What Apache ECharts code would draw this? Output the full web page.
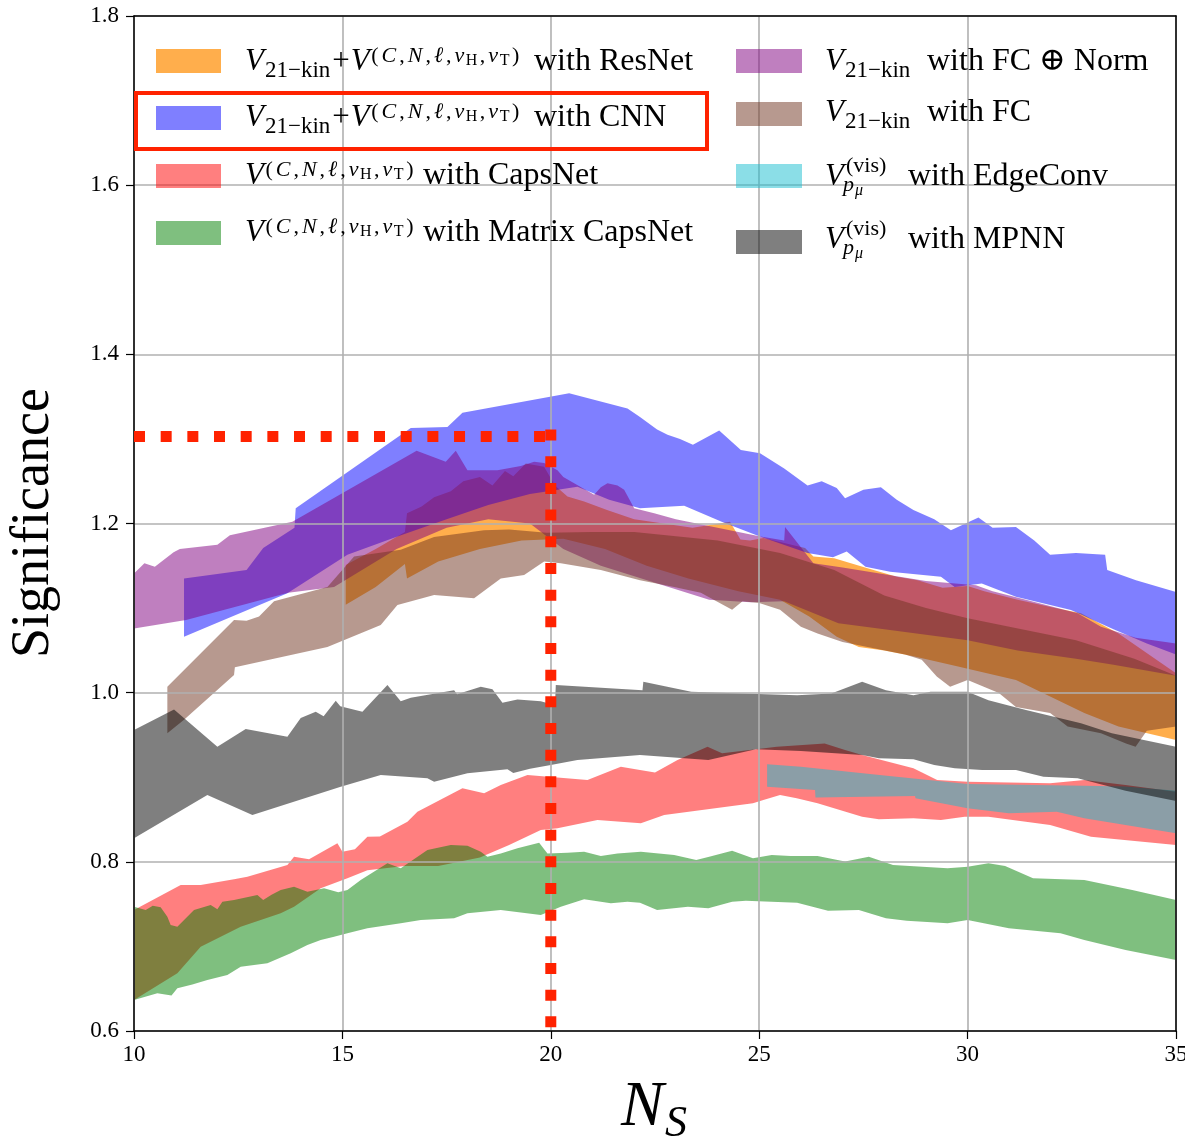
<!DOCTYPE html>
<html>
<head>
<meta charset="utf-8">
<script src="https://cdn.jsdelivr.net/npm/echarts@6/dist/echarts.min.js"></script>
<style>
  html, body { margin: 0; padding: 0; background: #ffffff; overflow: hidden; }
  #chart { width: 1185px; height: 1141px; }
</style>
</head>
<body>
<div id="chart"></div>
<script>
// ---- Significance bands vs. number of signal events N_S ----
// Each band is an upper edge and a lower edge, as [N_S, significance] pairs.

const resnetTop = [[15.08,1.151],[15.8,1.17],[16.5,1.19],[16.55,1.212],[16.9,1.22],[17.2,1.231],[17.6,1.238],[17.9,1.25],[18.3,1.255],[18.6,1.245],[18.9,1.262],[19.1,1.256],[19.4,1.271],[19.84,1.267],[20.1,1.245],[20.4,1.232],[20.8,1.226],[21.35,1.216],[22.0,1.205],[22.7,1.2],[23.4,1.195],[24.3,1.202],[24.55,1.181],[24.78,1.18],[25.1,1.183],[25.6,1.177],[26.1,1.171],[26.3,1.161],[26.8,1.159],[27.6,1.147],[28.3,1.137],[28.8,1.133],[29.4,1.124],[30.0,1.126],[30.4,1.12],[31.2,1.11],[32.1,1.1],[32.72,1.094],[33.62,1.07],[35.0,1.023]];
const resnetBottom = [[15.08,1.104],[15.8,1.125],[16.5,1.152],[16.55,1.135],[17.3,1.155],[18.3,1.17],[19.3,1.18],[20.3,1.182],[21.3,1.17],[22.3,1.15],[23.3,1.135],[24.5,1.12],[25.5,1.11],[26.2,1.09],[26.86,1.066],[27.39,1.054],[28.0,1.05],[28.7,1.043],[29.77,1.031],[31.16,1.015],[31.98,0.9955],[32.8,0.976],[33.62,0.96],[35.0,0.944]];

const cnnTop = [[11.2,1.135],[12.7,1.145],[13.1,1.171],[13.85,1.195],[13.88,1.218],[16.64,1.313],[17.52,1.314],[17.88,1.331],[20.44,1.354],[21.84,1.336],[22.14,1.326],[22.55,1.311],[22.8,1.305],[23.1,1.3],[23.41,1.293],[24.04,1.31],[24.56,1.287],[25.02,1.283],[25.6,1.265],[26.16,1.245],[26.5,1.25],[26.86,1.242],[27.06,1.23],[27.5,1.24],[27.92,1.243],[28.3,1.228],[28.7,1.216],[29.2,1.205],[29.6,1.192],[30.26,1.207],[30.6,1.195],[31.16,1.196],[31.6,1.18],[31.98,1.163],[32.6,1.165],[33.3,1.163],[33.35,1.145],[34.04,1.133],[35.0,1.119]];
const cnnBottom = [[11.2,1.066],[13.68,1.1175],[15.12,1.163],[16.32,1.1845],[17.5,1.205],[18.5,1.222],[19.5,1.235],[20.64,1.2435],[21.4,1.228],[22.14,1.218],[23.2,1.221],[24.1,1.202],[25.0,1.185],[26.16,1.165],[26.77,1.16],[27.1,1.167],[27.55,1.149],[28.14,1.143],[29.36,1.137],[29.69,1.125],[30.34,1.129],[31.16,1.1135],[32.48,1.0977],[33.5,1.075],[34.3,1.058],[35.0,1.045]];

const capsTop = [[10.0,0.743],[11.12,0.7726],[11.6,0.7726],[12.4,0.7793],[12.72,0.7824],[13.68,0.7963],[13.84,0.806],[14.2,0.803],[14.88,0.8219],[15.0,0.812],[15.3,0.815],[15.6,0.8297],[15.9,0.83],[16.56,0.8475],[16.8,0.8593],[17.88,0.887],[18.4,0.881],[18.8,0.8909],[19.44,0.9027],[20.88,0.8968],[21.68,0.9125],[22.14,0.9086],[22.5,0.9055],[23.04,0.9204],[23.76,0.9362],[24.11,0.9283],[24.92,0.933],[25.42,0.9362],[26.57,0.94],[27.06,0.9322],[27.47,0.9263],[28.7,0.9106],[29.27,0.8968],[30.0,0.8948],[31.98,0.8929],[32.8,0.8968],[33.79,0.8908],[35.0,0.883]];
const capsBottom = [[10.0,0.6367],[11.04,0.6682],[11.6,0.6997],[12.56,0.7233],[13.52,0.7391],[13.84,0.747],[14.48,0.7687],[15.12,0.7805],[15.6,0.79],[16.5,0.795],[17.3,0.795],[18.3,0.805],[19.0,0.82],[19.76,0.8376],[20.16,0.8396],[21.12,0.8495],[22.16,0.8456],[22.72,0.8554],[24.85,0.8692],[25.1,0.8731],[25.5,0.879],[25.9,0.8751],[26.4,0.8692],[27.47,0.8534],[27.87,0.8503],[28.7,0.8515],[29.36,0.8495],[29.93,0.8534],[30.5,0.8534],[31.98,0.8436],[32.96,0.8298],[35.0,0.82]];

const matrixTop = [[10.0,0.747],[10.28,0.743],[10.45,0.748],[10.64,0.7462],[10.8,0.735],[10.88,0.7253],[11.04,0.7233],[11.44,0.743],[11.84,0.749],[12.0,0.744],[12.12,0.7529],[12.4,0.7549],[12.96,0.7608],[13.1,0.755],[13.3,0.761],[13.52,0.7667],[13.84,0.7706],[14.16,0.7647],[14.56,0.7687],[14.9,0.764],[15.12,0.7667],[15.44,0.7785],[16.08,0.7983],[16.4,0.7924],[17.04,0.814],[17.6,0.82],[18.0,0.819],[18.32,0.812],[18.48,0.8061],[18.8,0.81],[19.2,0.816],[19.72,0.8227],[19.92,0.81],[20.4,0.8108],[20.8,0.812],[21.2,0.8069],[21.6,0.81],[22.16,0.812],[22.96,0.8081],[23.49,0.8022],[23.8,0.806],[24.35,0.8132],[24.85,0.8041],[25.3,0.808],[25.75,0.8069],[26.4,0.807],[27.06,0.8003],[27.63,0.8061],[28.21,0.7963],[29.52,0.7924],[30.0,0.7943],[30.5,0.7983],[30.9,0.795],[31.57,0.7805],[32.8,0.7785],[33.95,0.7667],[35.0,0.7549]];
const matrixBottom = [[10.0,0.6367],[10.56,0.6446],[10.9,0.642],[11.04,0.6505],[11.4,0.655],[11.76,0.6603],[12.24,0.6662],[12.56,0.676],[13.2,0.68],[13.76,0.6918],[14.16,0.7017],[14.48,0.7076],[14.8,0.7115],[15.12,0.7155],[15.6,0.7214],[16.4,0.7273],[16.88,0.7312],[17.68,0.7332],[18.0,0.7391],[18.8,0.743],[19.76,0.7371],[20.24,0.747],[20.8,0.7557],[21.44,0.751],[21.84,0.7529],[22.14,0.7517],[22.55,0.743],[23.29,0.747],[23.78,0.7451],[24.35,0.7529],[24.68,0.7541],[25.91,0.7517],[26.65,0.7423],[27.39,0.743],[28.04,0.7332],[28.54,0.7304],[29.52,0.7273],[30.0,0.7312],[30.99,0.7214],[32.23,0.7155],[32.8,0.7076],[33.79,0.6958],[35.0,0.6839]];

const fcNormTop = [[10.0,1.141],[10.25,1.153],[10.5,1.149],[10.95,1.166],[11.1,1.17],[12.0,1.175],[12.3,1.186],[13.8,1.202],[16.78,1.286],[17.48,1.273],[17.72,1.286],[18.0,1.263],[18.72,1.263],[19.28,1.268],[19.6,1.273],[19.84,1.2715],[20.16,1.263],[20.3,1.255],[21.04,1.234],[21.2,1.243],[21.36,1.2475],[21.6,1.245],[21.76,1.24],[22.0,1.218],[22.48,1.212],[23.0,1.205],[24.0,1.195],[25.0,1.185],[25.6,1.18],[25.62,1.196],[26.3,1.153],[27.0,1.148],[28.0,1.14],[29.0,1.132],[30.2,1.127],[30.6,1.12],[31.4,1.11],[32.64,1.094],[33.2,1.078],[34.03,1.065],[35.0,1.058]];
const fcNormBottom = [[10.0,1.076],[11.25,1.086],[13.7,1.118],[14.8,1.125],[16.3,1.17],[17.5,1.195],[18.5,1.205],[19.5,1.2],[20.3,1.17],[21.2,1.15],[22.5,1.13],[23.8,1.11],[24.8,1.107],[25.6,1.108],[26.9,1.082],[28.0,1.075],[30.0,1.062],[31.2,1.05],[32.6,1.04],[33.5,1.033],[35.0,1.02]];

const fcTop = [[10.8,1.007],[12.4,1.086],[12.7,1.085],[13.0,1.09],[13.36,1.108],[14.64,1.125],[15.28,1.161],[16.4,1.169],[17.2,1.184],[18.4,1.192],[19.0,1.193],[19.9,1.189],[21.0,1.19],[22.0,1.19],[24.0,1.18],[25.5,1.165],[26.8,1.145],[28.0,1.115],[29.0,1.1],[30.0,1.088],[31.0,1.078],[32.6,1.062],[34.0,1.04],[35.0,1.02]];
const fcBottom = [[10.8,0.952],[11.2,0.968],[12.4,1.021],[12.42,1.03],[14.64,1.054],[15.92,1.08],[16.32,1.1037],[17.2,1.1155],[18.16,1.1116],[18.8,1.135],[19.36,1.139],[19.84,1.155],[20.24,1.153],[21.2,1.145],[22.14,1.133],[22.96,1.125],[23.6,1.118],[24.35,1.098],[24.6,1.108],[25.0,1.106],[25.5,1.098],[26.0,1.078],[26.4,1.07],[27.0,1.06],[27.6,1.054],[28.5,1.045],[28.9,1.039],[29.26,1.019],[29.58,1.007],[30.0,1.015],[30.75,0.9996],[31.16,0.983],[31.98,0.976],[32.4,0.96],[33.2,0.952],[33.8,0.94],[34.03,0.936],[34.3,0.955],[35.0,0.96]];

const edgeConvTop = [[25.19,0.9153],[26.0,0.9125],[28.0,0.902],[30.0,0.892],[30.75,0.8915],[32.8,0.89],[33.79,0.889],[35.0,0.884]];
const edgeConvBottom = [[25.19,0.8889],[26.34,0.885],[26.35,0.876],[28.74,0.8778],[28.75,0.8751],[30.0,0.8633],[30.99,0.8574],[32.14,0.8593],[32.8,0.8515],[35.0,0.8337]];

const mpnnTop = [[10.0,0.956],[10.96,0.98],[12.0,0.936],[12.68,0.957],[13.68,0.948],[14.0,0.97],[14.36,0.9775],[14.55,0.972],[14.84,0.9905],[14.95,0.984],[15.48,0.9775],[16.08,1.009],[16.4,0.99],[16.64,0.994],[17.68,1.003],[17.75,0.998],[18.32,1.007],[18.6,1.004],[18.84,0.988],[19.2,0.992],[19.76,0.99],[20.1,0.985],[20.12,1.009],[22.2,1.003],[22.22,1.013],[23.37,1.001],[24.6,0.999],[25.91,0.997],[26.73,0.999],[27.47,1.013],[28.04,1.003],[28.7,0.997],[29.11,1.001],[30.0,1.001],[30.5,0.991],[31.4,0.9795],[32.72,0.9638],[33.46,0.952],[35.0,0.936]];
const mpnnBottom = [[10.0,0.8278],[11.76,0.879],[12.84,0.8554],[14.96,0.8889],[15.92,0.9027],[17.04,0.8988],[17.2,0.8948],[18.0,0.9047],[18.96,0.9094],[19.1,0.905],[19.5,0.91],[20.0,0.9145],[20.64,0.9204],[22.14,0.9263],[23.78,0.9204],[24.92,0.933],[26.0,0.931],[27.47,0.9263],[27.87,0.9224],[28.7,0.9212],[29.2,0.9145],[29.69,0.9106],[30.35,0.9086],[31.16,0.9086],[31.82,0.9007],[32.64,0.8988],[33.79,0.884],[35.0,0.872]];

// Reference marker at N_S = 20
const markNS = 20;
const markSignificance = 1.303;
const markTop = 1.311;

// Axis ticks
const xTicks = { min: 10, max: 35, step: 5 };
const yTicks = { min: 0.6, max: 1.8, step: 0.2 };

// ---- styling ----
const SERIF = '"Liberation Serif", "DejaVu Serif", serif';
const COLORS = {
  resnet: 'rgba(255,140,0,0.7)',
  cnn: 'rgba(0,0,255,0.5)',
  caps: 'rgba(255,0,0,0.5)',
  matrix: 'rgba(0,128,0,0.5)',
  fcNorm: 'rgba(128,0,128,0.5)',
  fc: 'rgba(112,52,32,0.5)',
  edge: 'rgba(23,190,207,0.5)',
  mpnn: 'rgba(0,0,0,0.5)'
};

function band(name, top, bottom, color) {
  const outline = top.concat(bottom.slice().reverse());
  return {
    type: 'custom',
    name: name,
    coordinateSystem: 'cartesian2d',
    xAxisIndex: 0,
    yAxisIndex: 0,
    data: outline,
    encode: { x: 0, y: 1 },
    clip: true,
    silent: true,
    z: 2,
    renderItem: function (params, api) {
      if (params.dataIndex !== 0) return null;
      const points = outline.map(function (p) { return api.coord(p); });
      return { type: 'polygon', shape: { points: points }, style: { fill: color } };
    }
  };
}

const markerLine = { color: '#ff2200', width: 11, type: [11, 15.67], cap: 'butt' };
const series = [
  band('ResNet', resnetTop, resnetBottom, COLORS.resnet),
  band('CNN', cnnTop, cnnBottom, COLORS.cnn),
  band('CapsNet', capsTop, capsBottom, COLORS.caps),
  band('Matrix CapsNet', matrixTop, matrixBottom, COLORS.matrix),
  band('FC ⊕ Norm', fcNormTop, fcNormBottom, COLORS.fcNorm),
  band('FC', fcTop, fcBottom, COLORS.fc),
  band('EdgeConv', edgeConvTop, edgeConvBottom, COLORS.edge),
  band('MPNN', mpnnTop, mpnnBottom, COLORS.mpnn),
  {
    type: 'line', name: 'marker-h', silent: true, z: 8, symbol: 'none', animation: false,
    data: [[xTicks.min, markSignificance], [markNS, markSignificance]],
    lineStyle: markerLine
  },
  {
    type: 'line', name: 'marker-v', silent: true, z: 8, symbol: 'none', animation: false,
    data: [[markNS, markTop], [markNS, yTicks.min]],
    lineStyle: markerLine
  }
];

// ---- legend drawn as graphic elements ----
const WORD_SIZE = 32;
function word(x, base, text, size) {
  size = size || WORD_SIZE;
  return {
    type: 'text', x: x, y: base - 0.35 * size, z: 20, silent: true,
    style: { text: text, fontFamily: SERIF, fontSize: size, fill: '#000', align: 'left', verticalAlign: 'middle' }
  };
}
function italic(x, base, text, size) {
  const el = word(x, base, text, size);
  el.style.fontStyle = 'italic';
  return el;
}
const RICH = {
  v:    { fontFamily: SERIF, fontStyle: 'italic', fontSize: 31, fill: '#000' },
  r:    { fontFamily: SERIF, fontSize: 31, fill: '#000', padding: [0, 1, 0, 1] },
  sub:  { fontFamily: SERIF, fontSize: 23, fill: '#000', padding: [17, 1, 0, 1] },
  supi: { fontFamily: SERIF, fontStyle: 'italic', fontSize: 22, fill: '#000', padding: [0, 1.5, 11, 1.5] },
  supr: { fontFamily: SERIF, fontSize: 22, fill: '#000', padding: [0, 1.5, 11, 1.5] },
  ss:   { fontFamily: SERIF, fontSize: 16, fill: '#000', padding: [0, 1, 3, 0] }
};
function math(x, base, text) {
  return {
    type: 'text', x: x, y: base - 0.35 * 31, z: 20, silent: true,
    style: { text: text, rich: RICH, fontFamily: SERIF, fontSize: 31, fill: '#000', align: 'left', verticalAlign: 'middle' }
  };
}
function handle(x, y, w, color) {
  return { type: 'rect', z: 19, silent: true, shape: { x: x, y: y, width: w, height: 24 }, style: { fill: color } };
}
const SUP_CN = '{supr|(}{supi|C}{supr|,}{supi|N}{supr|,}{supi|ℓ}{supr|,}{supi|ν}{ss|H}{supr|,}{supi|ν}{ss|T}{supr|)}';
const KIN = '{v|V}{sub|21−kin}';

const graphics = [
  // column 1
  handle(156, 49, 65, COLORS.resnet),
  math(245, 73, KIN + '{r|+}{v|V}' + SUP_CN),
  word(534, 73, 'with ResNet'),
  handle(156, 106, 65, COLORS.cnn),
  math(245, 129, KIN + '{r|+}{v|V}' + SUP_CN),
  word(534, 129, 'with CNN'),
  handle(156, 164, 65, COLORS.caps),
  math(245, 187, '{v|V}' + SUP_CN),
  word(423, 187, 'with CapsNet'),
  handle(156, 221, 65, COLORS.matrix),
  math(245, 244, '{v|V}' + SUP_CN),
  word(423, 244, 'with Matrix CapsNet'),
  // column 2
  handle(736, 49, 66, COLORS.fcNorm),
  math(825, 73, KIN),
  word(927, 73, 'with FC ⊕ Norm'),
  handle(736, 102, 66, COLORS.fc),
  math(825, 124, KIN),
  word(927, 124, 'with FC'),
  handle(736, 164, 66, COLORS.edge),
  italic(825, 188, 'V', 31),
  word(846, 173.5, '(vis)', 22),
  italic(843, 192.5, 'p', 22),
  italic(855, 196, 'μ', 16),
  word(908, 188, 'with EdgeConv'),
  handle(736, 230, 66, COLORS.mpnn),
  italic(825, 251, 'V', 31),
  word(846, 236.5, '(vis)', 22),
  italic(843, 255.5, 'p', 22),
  italic(855, 259, 'μ', 16),
  word(908, 251, 'with MPNN'),
  // highlighted legend entry
  { type: 'rect', z: 21, silent: true, shape: { x: 136, y: 93, width: 571, height: 56 },
    style: { fill: 'none', stroke: '#ff2200', lineWidth: 4 } },
  // axis titles
  { type: 'text', x: 34, y: 523, rotation: Math.PI / 2, z: 20, silent: true,
    style: { text: 'Significance', fontFamily: SERIF, fontSize: 54, fill: '#000', align: 'center', verticalAlign: 'middle' } },
  italic(621, 1131, 'N', 64),
  italic(665, 1140, 'S', 44)
];

const axisLineStyle = { color: '#000', width: 1.5 };
const option = {
  animation: false,
  backgroundColor: '#ffffff',
  grid: { left: 134, right: 9, top: 16, bottom: 110, containLabel: false, outerBoundsMode: 'none' },
  xAxis: [
    {
      type: 'value', min: xTicks.min, max: xTicks.max, interval: xTicks.step, z: 5,
      axisLine: { show: true, onZero: false, lineStyle: axisLineStyle },
      axisTick: { show: true, inside: false, length: 8, lineStyle: { color: '#000', width: 1.2 } },
      axisLabel: { color: '#000', fontFamily: SERIF, fontSize: 23, margin: 12 },
      splitLine: { show: true, lineStyle: { color: '#b0b0b0', width: 1.6 } }
    },
    {
      type: 'value', position: 'top', min: xTicks.min, max: xTicks.max, interval: xTicks.step, z: 5,
      axisLine: { show: true, onZero: false, lineStyle: axisLineStyle },
      axisTick: { show: false }, axisLabel: { show: false }, splitLine: { show: false }
    }
  ],
  yAxis: [
    {
      type: 'value', min: yTicks.min, max: yTicks.max, interval: yTicks.step, z: 5,
      axisLine: { show: true, onZero: false, lineStyle: axisLineStyle },
      axisTick: { show: true, inside: false, length: 8, lineStyle: { color: '#000', width: 1.2 } },
      axisLabel: { color: '#000', fontFamily: SERIF, fontSize: 23, margin: 15,
                   formatter: function (v) { return v.toFixed(1); } },
      splitLine: { show: true, lineStyle: { color: '#b0b0b0', width: 1.6 } }
    },
    {
      type: 'value', position: 'right', min: yTicks.min, max: yTicks.max, interval: yTicks.step, z: 5,
      axisLine: { show: true, onZero: false, lineStyle: axisLineStyle },
      axisTick: { show: false }, axisLabel: { show: false }, splitLine: { show: false }
    }
  ],
  series: series,
  graphic: { elements: graphics }
};

const chart = echarts.init(document.getElementById('chart'), null, { renderer: 'canvas' });
chart.setOption(option);
</script>
</body>
</html>
